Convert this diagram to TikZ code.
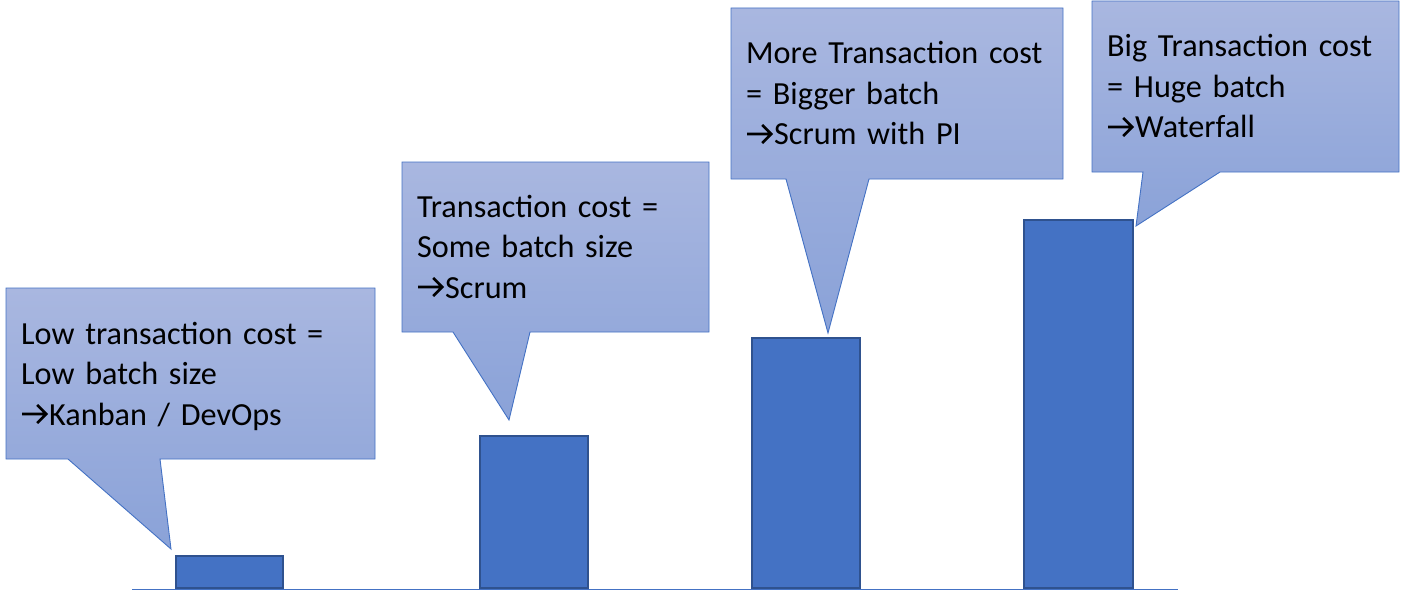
\documentclass[tikz,border=0pt]{standalone}
\usepackage{fontspec}
\setmainfont{Carlito}
\definecolor{cTop}{HTML}{A9B7E0}
\definecolor{cBot}{HTML}{8AA2D8}
\definecolor{cEdge}{HTML}{4472C4}
\definecolor{barFill}{HTML}{4472C4}
\definecolor{barEdge}{HTML}{2F528F}
\newcommand{\ar}{\tikz[baseline=0pt, x=1pt, y=1pt, line width=2.7pt, line join=miter, line cap=butt]{%
  \useasboundingbox (0,0) rectangle (27,20);
  \draw (1,11) -- (25,11) (16,2) -- (25,11) -- (16,20);}\kern1pt}
\tikzset{
  callout/.style={top color=cTop, bottom color=cBot, draw=cEdge, line width=0.9pt, line join=miter},
  label/.style={anchor=base west, inner sep=0pt, text width=#1, align=left,
                font=\fontsize{32.2}{40.5}\selectfont, text=black},
  bar/.style={draw=barEdge, fill=barFill, line width=1.8pt, inner sep=0pt, anchor=south west},
  axis/.style={draw=cEdge, line width=1.5pt}
}
\begin{document}
\begin{tikzpicture}[x=1pt,y=-1pt]
\useasboundingbox (0,0) rectangle (1402,591);
% callouts
\shadedraw[callout] (6,288) -- (375,288) -- (375,459) -- (160,459) -- (171,549) -- (68,459) -- (6,459) -- cycle;
\shadedraw[callout] (402,162) -- (709,162) -- (709,332) -- (530,332) -- (509,420) -- (453,332) -- (402,332) -- cycle;
\shadedraw[callout] (731,8) -- (1063,8) -- (1063,179) -- (869,179) -- (828,333) -- (786,179) -- (731,179) -- cycle;
\shadedraw[callout] (1092,1) -- (1399,1) -- (1399,172) -- (1220,172) -- (1136,226) -- (1143,172) -- (1092,172) -- cycle;
% texts
\node[label=350pt] (t1) at (21,344) {Low transaction cost =\\Low batch size\\\ar Kanban / DevOps};
\node[label=300pt] (t2) at (417,217) {Transaction cost =\\Some batch size\\\ar Scrum};
\node[label=320pt] (t3) at (746,64) {More Transaction cost\\= Bigger batch\\\ar Scrum with PI};
\node[label=300pt] (t4) at (1107,57) {Big Transaction cost\\= Huge batch\\\ar Waterfall};
% bars
\node[bar, minimum width=107pt, minimum height=32pt] (b1) at (175,589) {};
\node[bar, minimum width=108pt, minimum height=152pt] (b2) at (479,589) {};
\node[bar, minimum width=108pt, minimum height=250pt] (b3) at (751,589) {};
\node[bar, minimum width=109pt, minimum height=368pt] (b4) at (1023,589) {};
% baseline
\coordinate (axL) at (132,589.5);
\coordinate (axR) at (1178,589.5);
\draw[axis] (axL) -- (axR);
\end{tikzpicture}
\end{document}
